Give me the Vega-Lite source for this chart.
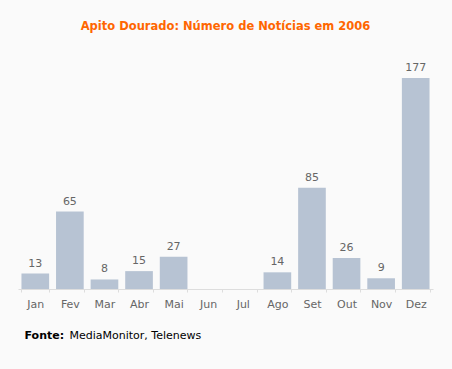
{
  "$schema": "https://vega.github.io/schema/vega-lite/v6.json",
  "width": 415,
  "height": 211,
  "autosize": {"type": "none"},
  "padding": {"left": 18, "top": 78, "right": 19, "bottom": 80},
  "background": "#fafafa",
  "title": {
    "text": "Apito Dourado: Número de Notícias em 2006",
    "color": "#ff6600",
    "fontSize": 11.5,
    "font": "DejaVu Sans",
    "fontWeight": "bold",
    "anchor": "middle",
    "frame": "group",
    "offset": 30
  },
  "config": {"view": {"stroke": null}, "font": "DejaVu Sans"},
  "data": {
    "values": [
      {"month": "Jan", "value": 13},
      {"month": "Fev", "value": 65},
      {"month": "Mar", "value": 8},
      {"month": "Abr", "value": 15},
      {"month": "Mai", "value": 27},
      {"month": "Jun", "value": 0},
      {"month": "Jul", "value": 0},
      {"month": "Ago", "value": 14},
      {"month": "Set", "value": 85},
      {"month": "Out", "value": 26},
      {"month": "Nov", "value": 9},
      {"month": "Dez", "value": 177}
    ]
  },
  "encoding": {
    "y": {"field": "value", "type": "quantitative", "scale": {"domain": [0, 177]}, "axis": null}
  },
  "layer": [
    {
      "mark": {"type": "bar", "color": "#b7c3d3"},
      "encoding": {
        "x": {
          "field": "month", "type": "nominal", "sort": null,
          "scale": {"paddingInner": 0.2, "paddingOuter": 0.1},
          "axis": {
            "orient": "bottom",
            "domainColor": "#dddddd",
            "tickColor": "#dddddd",
            "tickSize": 3,
            "tickBand": "extent",
            "labelColor": "#666666",
            "labelFontSize": 11,
            "labelPadding": 6,
            "labelAngle": 0,
            "grid": false,
            "title": "Fonte:",
            "titleFontWeight": "bold",
            "titleFontSize": 11,
            "titleColor": "#000000",
            "titleAnchor": "start",
            "titleAlign": "left",
            "titleBaseline": "alphabetic",
            "titleX": 6,
            "titleY": 49
          }
        }
      }
    },
    {
      "transform": [{"filter": "datum.value > 0"}],
      "mark": {"type": "text", "dy": -7, "baseline": "alphabetic", "color": "#666666", "fontSize": 11},
      "encoding": {
        "text": {"field": "value", "type": "quantitative"},
        "x": {
          "field": "month", "type": "nominal", "sort": null,
          "axis": {
            "orient": "bottom",
            "labels": false,
            "ticks": false,
            "domain": false,
            "grid": false,
            "title": "MediaMonitor, Telenews",
            "titleFontWeight": "normal",
            "titleFontSize": 11,
            "titleColor": "#000000",
            "titleAnchor": "start",
            "titleAlign": "left",
            "titleBaseline": "alphabetic",
            "titleX": 51,
            "titleY": 49
          }
        }
      }
    }
  ],
  "resolve": {"axis": {"x": "independent"}}
}
